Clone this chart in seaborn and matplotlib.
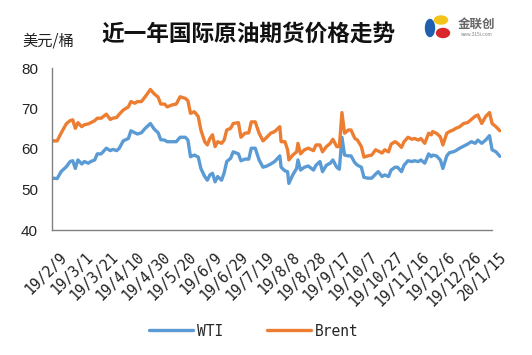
import numpy as np
import pandas as pd
import matplotlib
matplotlib.use("Agg")
import matplotlib.pyplot as plt
import matplotlib.dates as mdates
import matplotlib.transforms as mtransforms
from matplotlib.patches import Ellipse
from matplotlib.lines import Line2D
import seaborn as sns

# ---------------- data ----------------
start_date = "2019-02-09"
day_offsets = [0, 4, 7, 11, 14, 16, 18, 20, 23, 25, 28, 30, 33, 35, 38, 42, 45, 47, 50, 52,
               55, 59, 61, 64, 66, 69, 72, 76, 79, 82, 84, 87, 89, 93, 96, 99, 103, 105, 107, 110,
               113, 115, 118, 120, 122, 124, 126, 128, 131, 133, 135, 138, 140, 144, 146, 149, 152, 154, 157, 160,
               163, 166, 169, 172, 176, 177, 180, 182, 183, 186, 189, 190, 192, 195, 198, 202, 204, 207, 209, 212,
               215, 217, 220, 222, 224, 226, 229, 231, 234, 236, 239, 241, 244, 247, 250, 252, 255, 257, 260, 262,
               265, 267, 270, 272, 275, 278, 280, 283, 285, 288, 291, 293, 294, 297, 300, 302, 305, 307, 310, 312,
               315, 318, 321, 324, 327, 329, 332, 335, 338, 340, 343, 346]
wti = [52.8, 52.7, 54.4, 55.6, 56.9, 57.1, 55.2, 57.3, 56.3, 56.9, 56.5, 56.9, 57.3, 58.8, 58.8, 60.2, 59.6, 59.9, 59.6, 60.2,
       62.0, 62.6, 64.5, 64.0, 63.7, 64.0, 65.1, 66.3, 64.9, 64.0, 62.3, 62.2, 61.8, 61.8, 61.8, 62.9, 62.9, 62.2, 58.1, 58.5,
       58.0, 55.2, 53.2, 52.3, 53.6, 54.0, 51.9, 53.2, 52.3, 54.1, 56.9, 57.7, 59.3, 58.8, 57.1, 57.5, 57.5, 60.2, 60.2, 57.3,
       55.5, 55.8, 56.3, 56.9, 58.3, 55.5, 54.6, 54.4, 51.5, 53.6, 55.2, 57.3, 54.8, 55.5, 55.8, 54.8, 56.0, 56.9, 54.4, 56.0,
       56.5, 57.3, 55.5, 55.0, 62.9, 58.5, 58.3, 58.3, 56.6, 56.0, 55.5, 53.0, 52.8, 52.8, 53.8, 54.4, 53.2, 53.6, 53.2, 54.8,
       55.5, 55.5, 54.4, 56.0, 57.1, 56.9, 57.1, 56.9, 57.3, 56.5, 58.8, 58.1, 58.5, 58.3, 57.3, 55.2, 58.3, 59.1, 59.3, 59.6,
       60.2, 60.7, 61.2, 61.8, 61.4, 62.2, 61.4, 62.2, 63.3, 59.8, 59.3, 58.2]
brent = [62.0, 62.0, 63.9, 66.2, 67.0, 67.2, 65.1, 66.5, 65.5, 66.0, 66.2, 66.5, 67.0, 67.6, 67.6, 68.6, 67.3, 67.6, 67.8, 68.6,
         69.6, 70.4, 71.7, 71.3, 71.7, 71.7, 72.9, 74.7, 73.6, 72.8, 71.1, 71.1, 70.4, 70.9, 71.1, 72.9, 72.5, 71.9, 68.8, 69.2,
         68.0, 64.7, 61.8, 61.0, 62.6, 63.5, 60.6, 61.8, 61.4, 62.2, 64.7, 65.1, 66.3, 66.5, 62.9, 63.9, 64.0, 66.7, 66.7, 63.9,
         62.0, 62.9, 63.9, 64.3, 65.5, 61.8, 61.8, 59.8, 57.3, 58.5, 59.3, 61.4, 58.8, 59.8, 60.2, 59.6, 61.0, 61.0, 59.3, 60.6,
         61.4, 62.4, 60.6, 60.6, 69.0, 63.9, 64.7, 64.7, 62.6, 62.2, 60.6, 58.0, 58.3, 58.5, 59.8, 59.5, 59.0, 59.8, 59.3, 61.2,
         61.8, 61.4, 60.4, 61.8, 62.9, 62.4, 62.6, 62.2, 62.6, 61.4, 63.9, 63.5, 64.3, 63.9, 63.0, 61.0, 63.9, 64.3, 64.7, 65.1,
         65.5, 66.3, 66.5, 67.3, 68.1, 68.4, 66.3, 68.0, 69.0, 66.3, 65.5, 64.5]
tick_dates = ["2019-02-09", "2019-03-01", "2019-03-21", "2019-04-10", "2019-04-30", "2019-05-20",
              "2019-06-09", "2019-06-29", "2019-07-19", "2019-08-08", "2019-08-28", "2019-09-17",
              "2019-10-07", "2019-10-27", "2019-11-16", "2019-12-06", "2019-12-26", "2020-01-15"]
tick_labels = ["19/2/9", "19/3/1", "19/3/21", "19/4/10", "19/4/30", "19/5/20", "19/6/9", "19/6/29",
               "19/7/19", "19/8/8", "19/8/28", "19/9/17", "19/10/7", "19/10/27", "19/11/16", "19/12/6",
               "19/12/26", "20/1/15"]
y_ticks = [40, 50, 60, 70, 80]
series_names = ["WTI", "Brent"]
title = "近一年国际原油期货价格走势"
unit = "美元/桶"

# ---------------- build table ----------------
dates = pd.Timestamp(start_date) + pd.to_timedelta(day_offsets, unit="D")
df = pd.DataFrame({"date": list(dates) * 2,
                   "price": wti + brent,
                   "series": [series_names[0]] * len(wti) + [series_names[1]] * len(brent)})

sns.set_theme(style="white")
plt.rcParams["font.family"] = ["Liberation Sans", "Noto Sans CJK SC", "DejaVu Sans"]

BLUE = "#5B9BD5"
ORANGE = "#ED7D31"
GRAY = "#808080"

fig = plt.figure(figsize=(5.32, 3.55), dpi=100)
ax = fig.add_axes([52 / 532, 1 - 230 / 355, (500.5 - 52) / 532, (230 - 68) / 355])

sns.lineplot(data=df, x="date", y="price", hue="series", palette=[BLUE, ORANGE],
             linewidth=2.4, ax=ax, legend=False)

t0 = mdates.date2num(pd.Timestamp(start_date))
t_last = mdates.date2num(pd.Timestamp(tick_dates[-1]))
ax.set_xlim(t0, t0 + 346.5)
ax.set_ylim(40, 80)
ax.set_yticks(y_ticks)
ax.set_yticklabels([str(v) for v in y_ticks], fontsize=11, color="#222222",
                   family=["Liberation Sans"])
ax.set_xticks([mdates.date2num(pd.Timestamp(d)) for d in tick_dates])
ax.set_xticklabels(tick_labels, rotation=45, ha="right", va="top", rotation_mode="anchor",
                   fontsize=10.5, color="#222222", family=["DejaVu Sans Mono"])
ax.set_xlabel("")
ax.set_ylabel("")
ax.grid(False)
for s in ["top", "right"]:
    ax.spines[s].set_visible(False)
for s in ["left", "bottom"]:
    ax.spines[s].set_color(GRAY)
    ax.spines[s].set_linewidth(1.0)
ax.spines["bottom"].set_bounds(t0, t_last)
ax.tick_params(axis="both", direction="in", length=4, width=0.8, color=GRAY)
ax.tick_params(axis="y", pad=10)
ax.tick_params(axis="x", pad=11)
shift = mtransforms.ScaledTranslation(5 / 72, -3 / 72, fig.dpi_scale_trans)
for lbl in ax.get_xticklabels():
    lbl.set_transform(lbl.get_transform() + shift)

# title and unit
fig.text(249 / 532, 1 - 34 / 355, title, ha="center", va="center", fontsize=16.3,
         fontweight="bold", family=["Noto Sans CJK SC"], color="#111111")
fig.text(22 / 532, 1 - 41 / 355, unit, ha="left", va="center", fontsize=11,
         family=["Noto Sans CJK SC"], color="#222222")

# logo approximation
fig.patches.append(Ellipse((430 / 532, 1 - 28 / 355), 9 / 532, 17 / 355, transform=fig.transFigure,
                           color="#1F5FB0", zorder=5))
fig.patches.append(Ellipse((441 / 532, 1 - 20 / 355), 13 / 532, 8 / 355, transform=fig.transFigure,
                           color="#F2C318", zorder=5))
fig.patches.append(Ellipse((443 / 532, 1 - 33 / 355), 13 / 532, 9 / 355, transform=fig.transFigure,
                           color="#D8262B", zorder=5))
fig.text(476 / 532, 1 - 24 / 355, "金联创", ha="center", va="center", fontsize=9,
         family=["Noto Sans CJK SC"], color="#666666", fontweight="bold")
fig.text(476 / 532, 1 - 35 / 355, "www.315i.com", ha="center", va="center", fontsize=3.5,
         color="#888888")

# legend
handles = [Line2D([], [], color=BLUE, linewidth=2.4), Line2D([], [], color=ORANGE, linewidth=2.4)]
fig.legend(handles, series_names, loc="center", bbox_to_anchor=(254 / 532, 1 - 331 / 355),
           ncol=2, frameon=False, handlelength=3.0, handletextpad=0.3, columnspacing=3.0,
           prop={"family": "DejaVu Sans Mono", "size": 10.5})

fig.savefig("out.png", dpi=100, facecolor="white")
